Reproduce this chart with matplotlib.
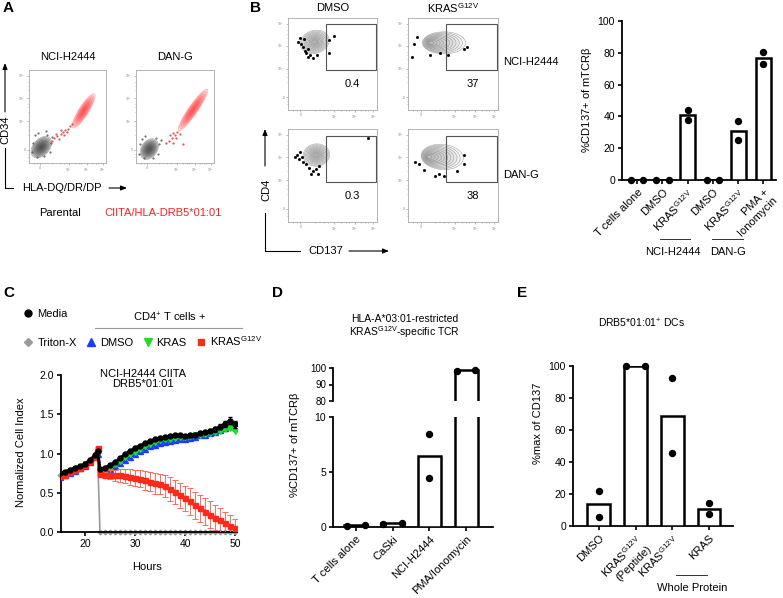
import numpy as np
import matplotlib
matplotlib.use('Agg')
import matplotlib.pyplot as plt
from matplotlib.patches import Ellipse, Rectangle
from matplotlib.lines import Line2D

plt.rcParams['font.family'] = ['Liberation Sans', 'DejaVu Sans']
plt.rcParams['font.size'] = 8
plt.rcParams['mathtext.default'] = 'regular'

G12V = r'KRAS$^{G12V}$'

# ---- panel B bar chart
b_labels = ['T cells alone', 'DMSO', G12V, 'DMSO', G12V, 'PMA +\nIonomycin']
b_rep1 = [0, 0, 44.3, 0, 37.0, 80.4]
b_rep2 = [0, 0, 38.0, 0, 24.9, 72.8]
b_gates = ['0.4', '37', '0.3', '38']

# ---- panel C impedance curves
hours = [15, 16, 17, 18, 19, 20, 21, 22, 22.5,
         23, 24, 25, 26, 27, 28, 29, 30, 31, 32, 33, 34, 35, 36,
         37, 38, 39, 40, 41, 42, 43, 44, 45, 46, 47, 48, 49, 50]
media = [0.75, 0.77, 0.79, 0.82, 0.84, 0.87, 0.92, 0.98, 1.03,
         0.80, 0.82, 0.85, 0.89, 0.94, 0.99, 1.03, 1.07, 1.10, 1.13, 1.16, 1.18, 1.20, 1.21,
         1.22, 1.23, 1.23, 1.22, 1.23, 1.24, 1.26, 1.27, 1.29, 1.31, 1.34, 1.38, 1.42, 1.37]
media_err = [0.01] * 9 + [0.01, 0.01, 0.01, 0.01, 0.01, 0.01, 0.01, 0.01, 0.01, 0.01,
                          0.01, 0.01, 0.01, 0.01, 0.01, 0.01, 0.01, 0.01, 0.02, 0.02,
                          0.02, 0.02, 0.02, 0.03, 0.03, 0.04, 0.05, 0.04]
triton = [0.73, 0.75, 0.78, 0.81, 0.83, 0.86, 0.91, 0.97, 1.01] + [0.0] * 28
dmso = [0.70, 0.72, 0.75, 0.78, 0.81, 0.84, 0.89, 0.95, 1.00,
        0.75, 0.77, 0.80, 0.84, 0.88, 0.92, 0.96, 0.99, 1.03, 1.06, 1.09, 1.11, 1.13, 1.15,
        1.16, 1.17, 1.18, 1.19, 1.20, 1.21, 1.23, 1.24, 1.26, 1.28, 1.30, 1.32, 1.35, 1.33]
kras = [0.72, 0.74, 0.77, 0.80, 0.83, 0.86, 0.91, 0.97, 1.01,
        0.77, 0.79, 0.82, 0.86, 0.90, 0.95, 0.99, 1.02, 1.06, 1.09, 1.12, 1.15, 1.17, 1.18,
        1.19, 1.20, 1.21, 1.21, 1.22, 1.23, 1.24, 1.25, 1.26, 1.28, 1.29, 1.31, 1.32, 1.29]
g12v = [0.71, 0.73, 0.76, 0.79, 0.82, 0.85, 0.90, 0.96, 1.07,
        0.74, 0.73, 0.73, 0.72, 0.72, 0.71, 0.70, 0.69, 0.68, 0.66, 0.64, 0.62, 0.61, 0.58,
        0.55, 0.51, 0.47, 0.43, 0.39, 0.34, 0.30, 0.26, 0.22, 0.18, 0.15, 0.11, 0.08, 0.05]
g12v_err = [0.01] * 9 + [0.02, 0.04, 0.06, 0.07, 0.08, 0.09, 0.10, 0.10, 0.11, 0.12,
                         0.12, 0.13, 0.13, 0.14, 0.15, 0.15, 0.16, 0.16, 0.17, 0.17,
                         0.17, 0.17, 0.17, 0.16, 0.16, 0.15, 0.14, 0.12]

# ---- panel D
d_labels = ['T cells alone', 'CaSki', 'NCI-H2444', 'PMA/Ionomycin']
d_rep1 = [0.1, 0.3, 8.5, 98.0]
d_rep2 = [0.2, 0.4, 4.5, 99.0]

# ---- panel E
e_labels = ['DMSO', G12V + '\n(Peptide)', G12V, 'KRAS']
e_rep1 = [22.0, 100.0, 92.3, 14.2]
e_rep2 = [5.8, 100.0, 45.8, 7.3]

# ---- flow populations (axes fraction): cx, cy, width, height, angle
a_gray = [(0.16, 0.17, 0.30, 0.19, 35), (0.17, 0.15, 0.26, 0.19, 40)]
a_red = [(0.71, 0.56, 0.46, 0.12, 52), (0.73, 0.57, 0.58, 0.11, 50)]
a_trail = [[(0.33, 0.27), (0.37, 0.29), (0.41, 0.31), (0.44, 0.33), (0.47, 0.35), (0.50, 0.37),
            (0.39, 0.26), (0.45, 0.30), (0.53, 0.40), (0.35, 0.31), (0.42, 0.35), (0.30, 0.24),
            (0.56, 0.42), (0.49, 0.33)],
           [(0.42, 0.24), (0.46, 0.27), (0.50, 0.30), (0.53, 0.33), (0.48, 0.22), (0.56, 0.31),
            (0.44, 0.30), (0.60, 0.20), (0.38, 0.22), (0.51, 0.27), (0.47, 0.32)]]
a_specks = [[(0.05, 0.22), (0.08, 0.30), (0.12, 0.32), (0.24, 0.30), (0.28, 0.22), (0.27, 0.12),
             (0.20, 0.07), (0.10, 0.06), (0.04, 0.12), (0.30, 0.28), (0.22, 0.34)],
            [(0.05, 0.20), (0.08, 0.26), (0.12, 0.29), (0.26, 0.27), (0.30, 0.20), (0.28, 0.10),
             (0.22, 0.05), (0.10, 0.05), (0.04, 0.10), (0.32, 0.25)]]
b_pops = [(0.30, 0.74, 0.33, 0.25, 15, 0.0), (0.40, 0.73, 0.48, 0.24, 0, 0.08),
          (0.32, 0.72, 0.30, 0.24, 5, 0.0), (0.38, 0.70, 0.47, 0.27, -5, 0.08)]
b_dots = [[(0.13, 0.78), (0.15, 0.72), (0.17, 0.68), (0.20, 0.62), (0.22, 0.58), (0.25, 0.60),
           (0.28, 0.57), (0.11, 0.74), (0.18, 0.77), (0.22, 0.66), (0.33, 0.60), (0.46, 0.62),
           (0.52, 0.80), (0.46, 0.76), (0.19, 0.64)],
          [(0.05, 0.58), (0.07, 0.72), (0.10, 0.79), (0.24, 0.60), (0.36, 0.62), (0.45, 0.60),
           (0.62, 0.66), (0.66, 0.68)],
          [(0.10, 0.72), (0.12, 0.68), (0.14, 0.75), (0.17, 0.65), (0.20, 0.62), (0.24, 0.58),
           (0.28, 0.55), (0.32, 0.57), (0.35, 0.60), (0.16, 0.70), (0.26, 0.52), (0.34, 0.52),
           (0.08, 0.70), (0.90, 0.90)],
          [(0.08, 0.64), (0.12, 0.62), (0.18, 0.56), (0.30, 0.50), (0.34, 0.52), (0.40, 0.50),
           (0.55, 0.55), (0.62, 0.62), (0.62, 0.72)]]

W, H = 783, 598
fig = plt.figure(figsize=(W / 100, H / 100), dpi=100)


def box(x0, y0, x1, y1):
    return fig.add_axes([x0 / W, 1 - y1 / H, (x1 - x0) / W, (y1 - y0) / H])


def style(ax):
    for s in ['top', 'right']:
        ax.spines[s].set_visible(False)
    for s in ['left', 'bottom']:
        ax.spines[s].set_linewidth(1.3)
    ax.tick_params(direction='out', length=3, width=1.2, pad=2, labelsize=7.5)


def flow(x0, y0, x1, y1):
    ax = box(x0, y0, x1, y1)
    ax.set_xlim(0, 1)
    ax.set_ylim(0, 1)
    for s in ax.spines.values():
        s.set_color('#a8a8a8')
        s.set_linewidth(0.6)
    ax.set_xticks([0.14, 0.52, 0.75, 0.96])
    ax.set_xticklabels(['0', '10$^3$', '10$^4$', '10$^5$'])
    ax.set_yticks([0.14, 0.45, 0.70, 0.94])
    ax.set_yticklabels(['0', '10$^3$', '10$^4$', '10$^5$'])
    ax.set_xticks([0.06, 0.1, 0.3, 0.4, 0.45, 0.6, 0.65, 0.68, 0.82, 0.87, 0.9], minor=True)
    ax.set_yticks([0.06, 0.1, 0.3, 0.36, 0.4, 0.55, 0.6, 0.63, 0.78, 0.83, 0.87], minor=True)
    ax.tick_params(which='both', length=1.5, width=0.4, color='#888', pad=1,
                   labelsize=2.5, labelcolor='#888')
    ax.tick_params(which='minor', length=0.8)
    return ax


def rings(ax, p, edge, face, n=9, lw=0.4):
    cx, cy, w, h, ang = p[:5]
    shift = p[5] if len(p) > 5 else 0.0
    for f in np.linspace(1.0, 0.12, n):
        ax.add_patch(Ellipse((cx - shift * (1 - f) * 2, cy), w * f, h * f, angle=ang,
                             ec=edge, fc=face, lw=lw))


def dots(ax, x, r1, r2, tol, lo, hi):
    for i in range(len(x)):
        if abs(r1[i] - r2[i]) < tol:
            xs = [x[i] - 0.25, x[i] + 0.25]
        else:
            xs = [x[i], x[i]]
        for xv, yv in zip(xs, [r1[i], r2[i]]):
            if lo <= yv <= hi:
                ax.plot(xv, yv, 'o', color='black', ms=4.3, clip_on=False, zorder=5)


def bars(ax, r1, r2, w):
    x = np.arange(len(r1))
    ax.bar(x, np.mean([r1, r2], axis=0), width=w, color='white', edgecolor='black',
           linewidth=1.8, zorder=3)
    return x


# ---------------- panel A
for k, (x0, x1) in enumerate([(29, 106), (136, 214)]):
    ax = flow(x0, 70, x1, 163)
    sx, sy = zip(*a_specks[k])
    ax.plot(sx, sy, '.', color='#555', ms=1.0)
    rings(ax, a_gray[k], (0.35, 0.35, 0.35, 0.7), (0.15, 0.15, 0.15, 0.16), n=9, lw=0.3)
    rings(ax, a_red[k], (1.0, 0.35, 0.35, 0.6), (1.0, 0.05, 0.05, 0.13), n=9, lw=0.3)
    tx, ty = zip(*a_trail[k])
    ax.plot(tx, ty, '.', color='#e05050', ms=1.2)

# ---------------- panel B flow
b_boxes = [(288, 18, 377, 110), (408, 18, 498, 110), (288, 129, 377, 222), (408, 129, 498, 222)]
for k, bb in enumerate(b_boxes):
    ax = flow(*bb)
    rings(ax, b_pops[k], (0.45, 0.45, 0.45, 0.7), (0.5, 0.5, 0.5, 0.06), n=11, lw=0.35)
    dx, dy = zip(*b_dots[k])
    ax.plot(dx, dy, 's', color='black', ms=1.0)
    gx0 = 0.43 if k % 2 == 0 else 0.42
    ax.add_patch(Rectangle((gx0, 0.43), 0.985 - gx0, 0.50, fill=False, ec='#555', lw=0.8))
    ax.text(0.72, 0.28, b_gates[k], ha='center', va='center', fontsize=8)

# ---------------- panel B bars
ax = box(622, 21, 776, 180)
style(ax)
x = bars(ax, b_rep1, b_rep2, 0.6)
dots(ax, x, b_rep1, b_rep2, 3, 0, 100)
ax.set_xlim(-0.6, 5.5)
ax.set_ylim(0, 100)
ax.set_yticks([0, 20, 40, 60, 80, 100])
ax.set_xticks(x)
ax.set_xticklabels(b_labels, rotation=45, ha='right', va='top', rotation_mode='anchor',
                   fontsize=8)

# ---------------- panel C
ax = box(61, 375, 237, 532)
style(ax)
ax.plot(hours, triton, '-', color='#9a9a9a', lw=1.2, marker='D', ms=2.4, clip_on=False, zorder=2)
ax.errorbar(hours, dmso, fmt='-^', color='#1a3cff', lw=2.2, ms=3.6, zorder=3)
ax.errorbar(hours, kras, fmt='-v', color='#22dd22', lw=2.2, ms=3.6, zorder=3)
ax.errorbar(hours, g12v, yerr=g12v_err, fmt='-s', color='#ff2a1a', ecolor='#ff6a5a',
            elinewidth=0.7, capsize=2, capthick=0.7, lw=2.4, ms=3.6, zorder=4)
ax.errorbar(hours, media, yerr=media_err, fmt='-o', color='black', elinewidth=0.7,
            capsize=1.5, lw=2.0, ms=3.6, zorder=5)
ax.set_xlim(15.2, 50.4)
ax.set_ylim(0, 2)
ax.set_xticks([20, 30, 40, 50])
ax.set_yticks([0, 0.5, 1.0, 1.5, 2.0])
ax.set_yticklabels(['0.0', '0.5', '1.0', '1.5', '2.0'])

h1 = Line2D([], [], ls='none', marker='o', color='black', ms=5)
h2 = Line2D([], [], ls='none', marker='D', color='#9a9a9a', ms=4)
h3 = Line2D([], [], ls='none', marker='^', color='#1a3cff', ms=5.5)
h4 = Line2D([], [], ls='none', marker='v', color='#22dd22', ms=5.5)
h5 = Line2D([], [], ls='none', marker='s', color='#ff2a1a', ms=5)
fig.legend([h1], ['Media'], loc='center left', bbox_to_anchor=(24 / W, 1 - 314 / H),
           frameon=False, handlelength=0.8, handletextpad=0.4, borderaxespad=0, borderpad=0,
           fontsize=8)
fig.legend([h2, h3, h4, h5], ['Triton-X', 'DMSO', 'KRAS', G12V], loc='center left',
           bbox_to_anchor=(24 / W, 1 - 341 / H), ncol=4, frameon=False, handlelength=0.8,
           handletextpad=0.4, columnspacing=0.9, borderaxespad=0, borderpad=0, fontsize=8)

# ---------------- panel D (broken axis)
axu = box(333, 368, 493, 401)
axl = box(333, 417, 493, 527)
for a, lo, hi in ((axu, 80, 100), (axl, 0, 10)):
    style(a)
    x = bars(a, d_rep1, d_rep2, 0.62)
    dots(a, x, d_rep1, d_rep2, 1.5, lo, hi)
    a.set_xlim(-0.62, 3.73)
    a.set_ylim(lo, hi)
axu.set_yticks([80, 90, 100])
axu.tick_params(labelsize=7)
axu.spines['bottom'].set_visible(False)
axu.set_xticks([])
axl.set_yticks([0, 5, 10])
axl.set_xticks(x)
axl.set_xticklabels(d_labels, rotation=45, ha='right', va='top', rotation_mode='anchor',
                    fontsize=8)

# ---------------- panel E
ax = box(573, 366, 733, 526)
style(ax)
x = bars(ax, e_rep1, e_rep2, 0.62)
dots(ax, x, e_rep1, e_rep2, 3, 0, 100)
ax.set_xlim(-0.7, 3.65)
ax.set_ylim(0, 100)
ax.set_yticks([0, 20, 40, 60, 80, 100])
ax.set_xticks(x)
ax.set_xticklabels(e_labels, rotation=45, ha='right', va='top', rotation_mode='anchor',
                   fontsize=8)

# ---------------- annotations in pixel space
ov = fig.add_axes([0, 0, 1, 1])
ov.set_xlim(0, W)
ov.set_ylim(H, 0)
ov.axis('off')
ov.patch.set_alpha(0)

for lab, xx, yy in [('A', 3, 8), ('B', 250, 8), ('C', 3, 293), ('D', 272, 293), ('E', 517, 293)]:
    ov.text(xx, yy, lab, fontsize=11, fontweight='bold', ha='left', va='center')

arrow = dict(arrowstyle='-|>,head_width=0.18,head_length=0.45', color='black', lw=0.8,
             shrinkA=0, shrinkB=0)
# A axis glyph
ov.annotate('', xy=(5, 63), xytext=(5, 112), arrowprops=arrow)
ov.plot([5, 5, 13], [148, 188, 188], color='black', lw=0.8)
ov.text(5, 130, 'CD34', rotation=90, ha='center', va='center')
ov.text(22, 188, 'HLA-DQ/DR/DP', ha='left', va='center')
ov.annotate('', xy=(127, 188), xytext=(109, 188), arrowprops=arrow)
ov.text(68, 57, 'NCI-H2444', ha='center', va='center')
ov.text(175, 57, 'DAN-G', ha='center', va='center')
ov.text(60, 213, 'Parental', ha='center', va='center')
ov.text(163, 213, 'CIITA/HLA-DRB5*01:01', ha='center', va='center', color='#ff2020')

# B axis glyph
ov.annotate('', xy=(265, 129), xytext=(265, 166), arrowprops=arrow)
ov.plot([265, 265, 300], [213, 251, 251], color='black', lw=0.8)
ov.annotate('', xy=(389, 251), xytext=(349, 251), arrowprops=arrow)
ov.text(266, 190, 'CD4', rotation=90, ha='center', va='center')
ov.text(326, 251, 'CD137', ha='center', va='center')
ov.text(333, 8, 'DMSO', ha='center', va='center')
ov.text(453, 8, G12V, ha='center', va='center')
ov.text(503, 62, 'NCI-H2444', ha='left', va='center')
ov.text(503, 175, 'DAN-G', ha='left', va='center')
ov.text(587, 100, r'%CD137+ of mTCR$\beta$', rotation=90, ha='center', va='center')
ov.plot([660, 690], [239, 239], color='#333', lw=0.7)
ov.plot([712, 743], [239, 239], color='#333', lw=0.7)
ov.text(673, 252, 'NCI-H2444', ha='center', va='center')
ov.text(728, 252, 'DAN-G', ha='center', va='center')

# C annotations
ov.text(170, 317, r'CD4$^{+}$ T cells +', ha='center', va='center')
ov.plot([95, 242], [328, 328], color='#999', lw=0.8)
ov.text(143, 369, 'NCI-H2444 CIITA\nDRB5*01:01', ha='center', va='top', linespacing=1.05)
ov.text(21, 452, 'Normalized Cell Index', rotation=90, ha='center', va='center')
ov.text(147, 567, 'Hours', ha='center', va='center')

# D annotations
ov.text(405, 327, 'HLA-A*03:01-restricted\n' + G12V + '-specific TCR', ha='center',
        va='center', fontsize=7.5, linespacing=1.1)
ov.text(295, 445, r'%CD137+ of mTCR$\beta$', rotation=90, ha='center', va='center')

# E annotations
ov.text(642, 323, r'DRB5*01:01$^{+}$ DCs', ha='center', va='center', fontsize=7.5)
ov.text(538, 423, '%max of CD137', rotation=90, ha='center', va='center')
ov.plot([676, 707], [575, 575], color='#333', lw=0.7)
ov.text(692, 588, 'Whole Protein', ha='center', va='center')

fig.savefig('out.png', dpi=100)
